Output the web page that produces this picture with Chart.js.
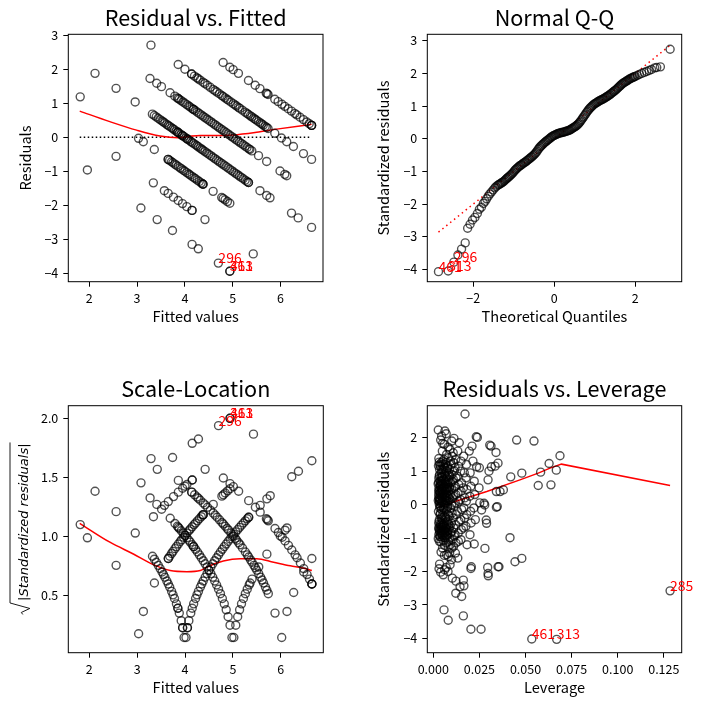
<!DOCTYPE html>
<html>
<head>
<meta charset="utf-8">
<script src="https://cdn.jsdelivr.net/npm/chart.js@4.4.1/dist/chart.umd.min.js"></script>
<style>
html,body{margin:0;padding:0;background:#ffffff;}
#page{position:relative;width:705px;height:706px;overflow:hidden;background:#fff;}
.layer{position:absolute;left:0;top:0;width:705px;height:706px;}
</style>
</head>
<body>
<div id="page">
<div class="layer"><canvas id="c1"></canvas></div>
<div class="layer"><canvas id="c2"></canvas></div>
<div class="layer"><canvas id="c3"></canvas></div>
<div class="layer"><canvas id="c4"></canvas></div>
</div>
<script>
// ================= DATA =================
// Observed (integer) responses and the fitted values of the observations with that response
const observedLevels = [1, 2, 3, 4, 5, 6, 7];
const fittedObs1 = [1.96, 3.08, 3.42, 3.74, 4.15, 4.28, 4.70, 4.94, 4.94];
const fittedObs2 = [2.56, 3.34, 3.57, 3.65, 3.76, 3.86, 3.95, 4.04, 4.15, 4.15, 4.42, 5.43];
const fittedObs3 = [1.81, 3.03, 3.13, 3.36, 3.65, 3.65, 3.68, 3.72, 3.75, 3.79, 3.82, 3.86, 3.90, 3.93, 3.97, 4.00, 4.04, 4.08, 4.11, 4.15, 4.19, 4.22, 4.26, 4.30, 4.34, 4.37, 4.38, 4.38, 4.59, 4.77, 4.80, 4.84, 4.89, 4.94];
const fittedObs4 = [2.12, 2.56, 2.96, 3.32, 3.36, 3.40, 3.44, 3.48, 3.52, 3.55, 3.58, 3.62, 3.65, 3.68, 3.72, 3.75, 3.78, 3.82, 3.85, 3.85, 3.88, 3.92, 3.95, 3.95, 3.98, 4.02, 4.05, 4.05, 4.08, 4.12, 4.15, 4.18, 4.22, 4.25, 4.28, 4.32, 4.35, 4.38, 4.42, 4.46, 4.50, 4.54, 4.58, 4.62, 4.66, 4.70, 4.74, 4.78, 4.82, 4.86, 4.90, 4.94, 4.98, 5.02, 5.06, 5.10, 5.14, 5.18, 5.22, 5.26, 5.30, 5.33, 5.33, 5.57, 5.71, 5.78, 6.23, 6.37, 6.65];
const fittedObs5 = [3.27, 3.41, 3.51, 3.69, 3.79, 3.84, 3.86, 3.88, 3.92, 3.96, 4.00, 4.04, 4.08, 4.11, 4.15, 4.18, 4.18, 4.22, 4.26, 4.30, 4.34, 4.38, 4.42, 4.46, 4.50, 4.54, 4.58, 4.62, 4.66, 4.70, 4.74, 4.78, 4.82, 4.86, 4.90, 4.94, 4.98, 5.02, 5.06, 5.10, 5.14, 5.18, 5.22, 5.26, 5.30, 5.34, 5.36, 5.40, 5.54, 5.71, 5.99, 6.09, 6.13];
const fittedObs6 = [3.29, 3.86, 4.00, 4.14, 4.14, 4.20, 4.25, 4.28, 4.32, 4.38, 4.42, 4.47, 4.53, 4.59, 4.63, 4.67, 4.72, 4.77, 4.80, 4.84, 4.88, 4.91, 4.96, 5.01, 5.05, 5.08, 5.12, 5.15, 5.20, 5.26, 5.30, 5.33, 5.37, 5.40, 5.44, 5.47, 5.50, 5.54, 5.58, 5.61, 5.64, 5.68, 5.71, 5.74, 5.88, 6.02, 6.13, 6.27, 6.48, 6.65];
const fittedObs7 = [4.80, 4.94, 5.01, 5.12, 5.33, 5.47, 5.57, 5.70, 5.72, 5.74, 5.88, 5.95, 6.03, 6.09, 6.16, 6.23, 6.30, 6.34, 6.41, 6.48, 6.55, 6.60, 6.65, 6.65, 6.65];
const residualScale = 0.985; // residual standard error used for standardizing

// Lowess curve, residuals vs fitted
const lowessRvfX = [1.80, 2.43, 2.99, 3.48, 3.86, 4.11, 4.32, 4.60, 5.01, 5.50, 5.92, 6.65];
const lowessRvfY = [0.77, 0.46, 0.21, 0.04, -0.01, 0.03, 0.05, 0.05, 0.07, 0.15, 0.24, 0.38];
const zeroLineX = [1.80, 6.65];
const zeroLineY = [0, 0];

// Normal Q-Q: [theoretical quantile, standardized residual]
const qqPoints = [
  [-2.86,-4.07],[-2.62,-4.05],[-2.48,-3.78],[-2.38,-3.56],[-2.29,-3.38],[-2.20,-3.19],[-2.14,-2.74],[-2.08,-2.62],[-2.02,-2.49],[-1.96,-2.41],[-1.90,-2.29],
  [-1.85,-2.16],[-1.80,-2.10],[-1.75,-1.98],[-1.71,-1.92],[-1.67,-1.84],[-1.63,-1.76],[-1.59,-1.69],[-1.55,-1.63],[-1.51,-1.57],[-1.47,-1.51],[-1.44,-1.47],
  [-1.400,-1.43],[-1.375,-1.41],[-1.350,-1.39],[-1.325,-1.37],[-1.300,-1.35],[-1.275,-1.33],[-1.250,-1.31],[-1.225,-1.28],[-1.200,-1.25],[-1.175,-1.22],
  [-1.150,-1.19],[-1.125,-1.17],[-1.100,-1.14],[-1.075,-1.11],[-1.050,-1.08],[-1.025,-1.05],[-1.000,-1.01],[-0.975,-0.97],[-0.950,-0.94],[-0.925,-0.91],
  [-0.900,-0.88],[-0.875,-0.85],[-0.850,-0.83],[-0.825,-0.81],[-0.800,-0.79],[-0.775,-0.76],[-0.750,-0.74],[-0.725,-0.72],[-0.700,-0.70],[-0.675,-0.67],
  [-0.650,-0.65],[-0.625,-0.62],[-0.600,-0.60],[-0.575,-0.57],[-0.550,-0.55],[-0.525,-0.52],[-0.500,-0.49],[-0.475,-0.46],[-0.450,-0.42],[-0.425,-0.38],
  [-0.400,-0.33],[-0.375,-0.29],[-0.350,-0.25],[-0.325,-0.22],[-0.300,-0.19],[-0.275,-0.16],[-0.250,-0.13],[-0.225,-0.10],[-0.200,-0.08],[-0.175,-0.05],
  [-0.150,-0.03],[-0.125,0.00],[-0.100,0.02],[-0.075,0.05],[-0.050,0.07],[-0.025,0.09],
  [0.000,0.10],[0.025,0.12],[0.050,0.13],[0.075,0.15],[0.100,0.16],[0.125,0.17],[0.150,0.18],[0.175,0.19],[0.200,0.19],[0.225,0.20],
  [0.250,0.21],[0.275,0.22],[0.300,0.23],[0.325,0.24],[0.350,0.25],[0.375,0.26],[0.400,0.28],[0.425,0.30],[0.450,0.32],[0.475,0.34],
  [0.500,0.36],[0.525,0.38],[0.550,0.40],[0.575,0.43],[0.600,0.46],[0.625,0.50],[0.650,0.54],[0.675,0.58],[0.700,0.63],[0.725,0.67],
  [0.750,0.72],[0.775,0.76],[0.800,0.81],[0.825,0.85],[0.850,0.89],[0.875,0.93],[0.900,0.96],[0.925,0.99],[0.950,1.02],[0.975,1.05],
  [1.000,1.07],[1.025,1.09],[1.050,1.11],[1.075,1.13],[1.100,1.15],[1.125,1.17],[1.150,1.18],[1.175,1.20],[1.200,1.21],[1.225,1.23],
  [1.250,1.25],[1.275,1.27],[1.300,1.29],[1.325,1.31],[1.350,1.33],[1.375,1.35],[1.400,1.38],[1.425,1.40],[1.450,1.43],[1.475,1.45],
  [1.500,1.48],[1.525,1.50],[1.550,1.53],[1.575,1.56],[1.600,1.59],[1.625,1.62],[1.650,1.65],[1.675,1.68],[1.700,1.70],[1.725,1.72],
  [1.750,1.74],[1.775,1.76],[1.800,1.78],[1.825,1.80],[1.850,1.82],[1.875,1.84],[1.900,1.85],[1.925,1.87],[1.950,1.88],[1.975,1.90],
  [2.00,1.91],[2.05,1.94],[2.10,1.97],[2.16,2.00],[2.22,2.03],[2.28,2.06],[2.34,2.09],[2.40,2.12],[2.48,2.17],[2.53,2.18],[2.62,2.20],[2.86,2.74]
];
const qqLineX = [-2.86, 2.86];
const qqLineY = [-2.86, 2.86];

// Scale-location lowess
const lowessSlX = [1.80, 2.43, 2.92, 3.34, 3.69, 4.04, 4.32, 4.46, 4.80, 5.15, 5.50, 5.85, 6.20, 6.48, 6.65];
const lowessSlY = [1.11, 0.95, 0.85, 0.76, 0.71, 0.70, 0.71, 0.74, 0.79, 0.81, 0.81, 0.78, 0.75, 0.73, 0.71];

// Residuals vs leverage: [leverage, standardized residual]
const leverageStdPairs = [
  [0.0027,2.23],[0.0030,1.38],[0.0032,1.27],[0.0028,1.16],[0.0034,1.05],[0.0030,0.78],[0.0026,0.62],[0.0031,0.51],[0.0033,0.40],[0.0029,0.31],[0.0030,0.22],[0.0027,0.12],[0.0032,0.02],[0.0035,-0.10],[0.0028,-0.21],[0.0031,-0.58],[0.0029,-0.70],[0.0033,-0.79],[0.0030,-0.90],[0.0027,-1.02],[0.0034,-1.78],[0.0031,-1.92],
  [0.0036,0.45],[0.0038,0.28],[0.0033,0.08],[0.0037,0.58],[0.0029,0.66],[0.0036,-0.05],[0.0034,0.18],[0.0038,-0.62],[0.0032,-0.74],[0.0036,-0.85],
  [0.0035,1.20],[0.0034,0.90],[0.0036,0.70],[0.0035,0.35],[0.0034,0.12],[0.0036,-0.30],[0.0035,-0.95],[0.0033,-1.10],
  [0.0029,0.42],[0.0031,0.18],[0.0033,-0.45],[0.0030,-0.52],[0.0032,0.85],[0.0036,-0.68],
  [0.0040,1.93],[0.0042,1.25],[0.0038,1.15],[0.0044,0.95],[0.0041,0.70],[0.0039,0.55],[0.0043,0.45],[0.0040,0.35],[0.0045,0.25],[0.0038,0.15],[0.0042,0.05],[0.0041,-0.05],[0.0039,-0.27],[0.0044,-0.65],[0.0040,-0.75],[0.0043,-0.85],[0.0038,-0.96],[0.0041,-1.12],[0.0042,-1.42],[0.0040,-2.02],
  [0.0039,0.62],[0.0041,0.38],[0.0043,-0.40],[0.0040,-0.58],[0.0042,0.82],[0.0044,-0.78],
  [0.0046,1.05],[0.0047,0.80],[0.0045,0.62],[0.0046,0.48],[0.0047,0.20],[0.0045,-0.15],[0.0046,-0.70],[0.0047,-0.90],
  [0.0051,1.83],[0.0045,2.05],[0.0049,1.60],[0.0052,1.30],[0.0050,1.20],[0.0054,1.05],[0.0048,0.85],[0.0051,0.60],[0.0053,0.50],[0.0049,0.40],[0.0050,0.30],[0.0052,0.20],[0.0047,0.10],[0.0055,-0.10],[0.0050,-0.32],[0.0048,-0.55],[0.0053,-0.68],[0.0051,-0.80],[0.0049,-0.92],[0.0052,-1.06],[0.0050,-1.30],[0.0054,-2.10],
  [0.0048,0.45],[0.0050,0.05],[0.0049,-0.45],[0.0051,-0.62],[0.0048,0.72],[0.0052,-0.85],
  [0.0056,1.15],[0.0057,0.75],[0.0055,0.52],[0.0056,0.35],[0.0057,0.05],[0.0055,-0.60],[0.0056,-0.75],[0.0057,-0.98],
  [0.0063,2.20],[0.0060,1.80],[0.0058,1.35],[0.0062,1.10],[0.0061,0.90],[0.0064,0.70],[0.0059,0.55],[0.0062,0.45],[0.0060,0.30],[0.0063,0.15],[0.0061,0.00],[0.0058,-0.15],[0.0064,-0.42],[0.0060,-0.65],[0.0062,-0.77],[0.0059,-0.88],[0.0063,-1.00],[0.0061,-1.22],[0.0060,-1.52],[0.0062,-1.95],[0.0058,-3.15],
  [0.0058,0.62],[0.0060,0.22],[0.0059,-0.35],[0.0061,-0.55],[0.0063,0.95],[0.0064,-0.85],
  [0.0066,1.20],[0.0067,0.85],[0.0065,0.62],[0.0066,0.40],[0.0067,0.22],[0.0065,-0.05],[0.0066,-0.72],[0.0067,-0.92],
  [0.0070,2.12],[0.0072,1.50],[0.0068,1.25],[0.0071,1.00],[0.0074,0.80],[0.0069,0.62],[0.0073,0.48],[0.0070,0.35],[0.0072,0.20],[0.0068,0.05],[0.0071,-0.20],[0.0075,-0.50],[0.0070,-0.70],[0.0069,-0.82],[0.0073,-0.95],[0.0071,-1.15],[0.0072,-1.50],[0.0070,-1.88],
  [0.0069,0.52],[0.0071,0.12],[0.0068,-0.38],[0.0072,-0.60],
  [0.0076,1.10],[0.0077,0.68],[0.0075,0.45],[0.0076,0.28],[0.0077,-0.10],[0.0075,-0.80],
  [0.0080,1.72],[0.0082,1.40],[0.0078,1.15],[0.0081,0.95],[0.0084,0.75],[0.0079,0.60],[0.0083,0.40],[0.0080,0.25],[0.0082,0.10],[0.0078,-0.05],[0.0081,-0.30],[0.0084,-0.60],[0.0080,-0.76],[0.0079,-0.90],[0.0083,-1.10],[0.0081,-1.27],[0.0082,-1.55],[0.0080,-2.00],[0.0081,-3.46],
  [0.0078,0.50],[0.0080,-0.45],
  [0.0086,0.88],[0.0087,0.52],[0.0085,0.20],[0.0086,-0.70],
  [0.0090,1.65],[0.0093,1.30],[0.0088,1.05],[0.0091,0.85],[0.0094,0.65],[0.0089,0.50],[0.0092,0.30],[0.0090,0.15],[0.0093,-0.10],[0.0088,-0.35],[0.0091,-0.65],[0.0095,-0.85],[0.0090,-1.00],[0.0092,-1.20],[0.0089,-1.45],[0.0091,-1.80],
  [0.0100,1.90],[0.0102,1.45],[0.0098,1.20],[0.0101,0.90],[0.0104,0.70],[0.0099,0.45],[0.0103,0.20],[0.0100,0.00],[0.0102,-0.25],[0.0098,-0.55],[0.0101,-0.80],[0.0104,-1.05],[0.0100,-1.30],[0.0099,-1.65],[0.0103,-2.20],
  [0.0112,1.98],[0.0108,1.55],[0.0111,1.25],[0.0114,1.00],[0.0109,0.75],[0.0113,0.50],[0.0110,0.25],[0.0112,-0.05],[0.0108,-0.40],[0.0111,-0.70],[0.0114,-0.95],[0.0110,-1.25],
  [0.0121,1.35],[0.0118,1.10],[0.0123,0.80],[0.0120,0.55],[0.0122,0.30],[0.0119,0.05],[0.0124,-0.30],[0.0121,-0.60],[0.0118,-0.90],[0.0123,-1.15],[0.0120,-1.45],[0.0123,-2.29],[0.0122,-2.65],
  [0.0141,1.85],[0.0133,1.60],[0.0136,1.15],[0.0131,0.85],[0.0138,0.60],[0.0134,0.35],[0.0137,0.10],[0.0132,-0.20],[0.0139,-0.50],[0.0135,-0.85],[0.0136,-1.10],[0.0133,-1.60],
  [0.0150,1.30],[0.0148,1.00],[0.0153,0.65],[0.0151,0.40],[0.0147,0.15],[0.0154,-0.15],[0.0149,-0.45],[0.0152,-0.75],[0.0150,-1.05],[0.0145,-2.46],[0.0154,-2.75],[0.0166,-2.43],[0.0163,-2.26],
  [0.0172,2.71],[0.0165,1.45],[0.0168,0.95],[0.0163,0.50],[0.0170,0.20],[0.0166,-0.10],[0.0169,-0.40],[0.0164,-0.70],[0.0163,-3.33],[0.0180,1.20],[0.0178,0.80],[0.0182,0.45],[0.0179,0.10],[0.0181,-0.30],[0.0177,-0.65],[0.0183,-1.20],
  [0.0195,1.60],[0.0210,1.75],[0.0200,0.95],[0.0204,0.55],[0.0198,0.25],[0.0202,-0.20],[0.0205,-0.55],[0.0199,-0.90],[0.0204,-1.91],[0.0215,1.30],[0.0222,0.70],[0.0225,0.30],[0.0220,-0.10],[0.0228,-0.45],[0.0222,-1.18],
  [0.0233,2.03],[0.0239,2.01],[0.0235,1.13],[0.0250,1.10],[0.0248,0.50],[0.0252,0.05],[0.0262,-0.16],[0.0275,0.04],[0.0279,-0.01],[0.0287,-0.46],[0.0289,-0.56],[0.0280,-1.31],[0.0297,0.74],[0.0302,1.00],[0.0306,1.78],[0.0313,1.75],[0.0315,1.13],[0.0342,0.39],[0.0340,1.56],[0.0335,1.15],[0.0342,-0.08],[0.0351,1.24],[0.0347,-0.06],[0.0351,-1.86],[0.0356,-1.86],[0.0295,-1.88],[0.0298,-2.13],[0.0297,-2.06],[0.0259,-3.73],[0.0204,-3.73],[0.0206,-1.86],
  [0.0362,0.39],[0.0380,0.44],[0.0416,-0.99],[0.0420,0.83],[0.0443,-1.71],[0.0452,1.93],[0.0480,0.94],[0.0480,-1.61],[0.0534,-4.02],[0.0546,1.90],[0.0569,0.57],[0.0582,0.97],[0.0628,1.23],[0.0638,0.59],[0.0667,1.03],[0.0687,1.46],[0.0669,-4.03],[0.1284,-2.58]
];
const lowessLevX = [0.0030, 0.0118, 0.0290, 0.0470, 0.0569, 0.0633, 0.0695, 0.1284];
const lowessLevY = [-0.08, 0.09, 0.39, 0.74, 0.94, 1.09, 1.21, 0.57];

// Labelled observations
const outlierIds = ['296', '313', '461'];
const outlierFitted = [4.70, 4.94, 4.94];
const outlierObserved = [1, 1, 1];
const qqOutlierIds = ['296', '313', '461'];
const qqOutlierTheo = [-2.48, -2.62, -2.86];
const qqOutlierSample = [-3.78, -4.05, -4.07];
const levOutlierIds = ['461', '313', '285'];
const levOutlierX = [0.0534, 0.0669, 0.1284];
const levOutlierY = [-4.02, -4.03, -2.58];

// Tick labels
const ticksRvfX = [2, 3, 4, 5, 6];
const ticksRvfY = [-4, -3, -2, -1, 0, 1, 2, 3];
const ticksQqX = [-2, 0, 2];
const ticksQqY = [-4, -3, -2, -1, 0, 1, 2, 3];
const ticksSlX = [2, 3, 4, 5, 6];
const ticksSlY = [0.5, 1.0, 1.5, 2.0];
const ticksLevX = [0, 0.025, 0.05, 0.075, 0.1, 0.125];
const ticksLevY = [-4, -3, -2, -1, 0, 1, 2];

// ================= DERIVED =================
const fitted = [], observed = [];
[fittedObs1, fittedObs2, fittedObs3, fittedObs4, fittedObs5, fittedObs6, fittedObs7].forEach((arr, k) => {
  arr.forEach(f => { fitted.push(f); observed.push(observedLevels[k]); });
});
const residuals = fitted.map((f, i) => observed[i] - f);
const sqrtAbsStd = residuals.map(r => Math.sqrt(Math.abs(r) / residualScale));
const outlierResid = outlierFitted.map((f, i) => outlierObserved[i] - f);
const outlierSqrt = outlierResid.map(r => Math.sqrt(Math.abs(r) / residualScale));

// ================= STYLE / LAYOUT =================
const FONT = '"Noto Sans CJK JP", "Noto Sans", "DejaVu Sans", sans-serif';
const PW = 705, PH = 706, YW = 60, XH = 40;
const minus = v => (v < 0 ? '\u2212' : '') + Math.abs(v);
const fmtInt = v => minus(Math.round(v));
const fmt1 = v => v.toFixed(1);
const fmt3 = v => v.toFixed(3);

const pts = (xs, ys) => xs.map((x, i) => ({ x: x, y: ys[i] }));

function scatterDS(data) {
  return { data: data, showLine: false, pointRadius: 4.0, pointHoverRadius: 4.0, pointBorderWidth: 1.4,
    pointBorderColor: 'rgba(0,0,0,0.68)', pointBackgroundColor: 'rgba(0,0,0,0)', order: 0 };
}
function lineDS(data, color, dash, smooth) {
  return { data: data, showLine: true, borderColor: color, borderWidth: 1.5, borderDash: dash || [],
    borderCapStyle: 'butt', pointRadius: 0, pointHoverRadius: 0, fill: false,
    tension: smooth ? 0.4 : 0, cubicInterpolationMode: smooth ? 'monotone' : 'default', order: 1 };
}
function axisCfg(min, max, ticks, fmt, isY) {
  return {
    type: 'linear', min: min, max: max, bounds: 'data',
    afterBuildTicks: s => { s.ticks = ticks.map(v => ({ value: v })); },
    afterFit: s => { if (isY) s.width = YW; else s.height = XH; },
    grid: { display: true, drawOnChartArea: false, drawTicks: true, tickLength: 5, color: '#000', lineWidth: 1 },
    border: { display: false },
    ticks: { color: '#000', font: { family: FONT, size: 12.5 }, padding: isY ? 5 : 4.5,
      maxRotation: 0, minRotation: 0, autoSkip: false, callback: v => fmt(v) }
  };
}

function panelPlugin(p) {
  return {
    id: 'panel_' + p.id,
    afterDatasetsDraw(chart) {
      const ctx = chart.ctx, a = chart.chartArea;
      ctx.save();
      ctx.strokeStyle = '#000'; ctx.lineWidth = 1;
      ctx.strokeRect(a.left, a.top, a.right - a.left, a.bottom - a.top);
      ctx.fillStyle = '#ff0000';
      ctx.font = '14px ' + FONT;
      ctx.textAlign = 'left'; ctx.textBaseline = 'alphabetic';
      (p.annots || []).forEach(an => {
        const px = chart.scales.x.getPixelForValue(an.x);
        const py = chart.scales.y.getPixelForValue(an.y);
        ctx.fillText(an.text, px, py);
      });
      ctx.restore();
    },
    afterDraw(chart) {
      const ctx = chart.ctx, a = chart.chartArea;
      const cx = (a.left + a.right) / 2, cy = (a.top + a.bottom) / 2;
      ctx.save();
      ctx.fillStyle = '#000';
      ctx.textAlign = 'center'; ctx.textBaseline = 'alphabetic';
      ctx.font = '21.6px ' + FONT;
      ctx.fillText(p.title, cx, a.top - 8.3);
      ctx.font = '14.6px ' + FONT;
      ctx.fillText(p.xlabel, cx, a.bottom + 40.6);
      if (p.sqrtLabel) {
        drawSqrtLabel(ctx, p.ylabelX, cy);
      } else {
        ctx.translate(p.ylabelX, cy);
        ctx.rotate(-Math.PI / 2);
        ctx.fillText(p.ylabel, 0, 0);
      }
      ctx.restore();
    }
  };
}

function drawSqrtLabel(ctx, xBase, yCenter) {
  ctx.save();
  ctx.translate(xBase, yCenter);
  ctx.rotate(-Math.PI / 2);
  const txt = '|Standardized residuals|';
  ctx.font = 'italic 13px "DejaVu Sans"';
  const tw = ctx.measureText(txt).width;
  const rw = 14;
  const total = rw + tw;
  const x0 = -total / 2;
  ctx.fillStyle = '#000';
  ctx.textAlign = 'left';
  ctx.textBaseline = 'alphabetic';
  ctx.fillText(txt, x0 + rw, 0);
  ctx.strokeStyle = '#000';
  ctx.lineWidth = 0.9;
  ctx.beginPath();
  ctx.moveTo(x0 + 0.5, -5.5);
  ctx.lineTo(x0 + 2.5, -7);
  ctx.lineTo(x0 + 6.5, 1.5);
  ctx.lineTo(x0 + 12, -18.3);
  ctx.lineTo(x0 + total + 1, -18.3);
  ctx.stroke();
  ctx.restore();
}

function makeChart(p) {
  const a = p.area;
  return new Chart(document.getElementById(p.id), {
    type: 'scatter',
    data: { datasets: p.datasets },
    options: {
      responsive: true, maintainAspectRatio: false, animation: false, events: [],
      layout: { padding: { left: a.L - YW, top: a.T, right: PW - a.R, bottom: PH - a.B - XH } },
      plugins: { legend: { display: false }, tooltip: { enabled: false }, title: { display: false } },
      scales: { x: p.x, y: p.y }
    },
    plugins: [panelPlugin(p)]
  });
}

// ================= PANELS =================
makeChart({
  id: 'c1', area: { L: 68.3, T: 34.3, R: 323, B: 281.7 },
  title: 'Residual vs. Fitted', xlabel: 'Fitted values', ylabel: 'Residuals', ylabelX: 31,
  x: axisCfg(1.561, 6.889, ticksRvfX, fmtInt, false),
  y: axisCfg(-4.247, 3.029, ticksRvfY, fmtInt, true),
  datasets: [
    scatterDS(pts(fitted, residuals)),
    lineDS(pts(lowessRvfX, lowessRvfY), '#ff0000', [], true),
    lineDS(pts(zeroLineX, zeroLineY), '#000000', [1.5, 2.5], false)
  ],
  annots: outlierIds.map((t, i) => ({ text: t, x: outlierFitted[i], y: outlierResid[i] }))
});

makeChart({
  id: 'c2', area: { L: 427.3, T: 34.3, R: 681.7, B: 281.7 },
  title: 'Normal Q-Q', xlabel: 'Theoretical Quantiles', ylabel: 'Standardized residuals', ylabelX: 389,
  x: axisCfg(-3.136, 3.146, ticksQqX, fmtInt, false),
  y: axisCfg(-4.378, 3.197, ticksQqY, fmtInt, true),
  datasets: [
    scatterDS(qqPoints.map(p => ({ x: p[0], y: p[1] }))),
    lineDS(pts(qqLineX, qqLineY), '#ff0000', [1.5, 3.5], false)
  ],
  annots: qqOutlierIds.map((t, i) => ({ text: t, x: qqOutlierTheo[i], y: qqOutlierSample[i] }))
});

makeChart({
  id: 'c3', area: { L: 68.3, T: 405.7, R: 323.3, B: 652.7 },
  title: 'Scale-Location', xlabel: 'Fitted values', sqrtLabel: true, ylabelX: 28.3,
  x: axisCfg(1.561, 6.889, ticksSlX, fmtInt, false),
  y: axisCfg(0.0136, 2.107, ticksSlY, fmt1, true),
  datasets: [
    scatterDS(pts(fitted, sqrtAbsStd)),
    lineDS(pts(lowessSlX, lowessSlY), '#ff0000', [], true)
  ],
  annots: outlierIds.map((t, i) => ({ text: t, x: outlierFitted[i], y: outlierSqrt[i] }))
});

makeChart({
  id: 'c4', area: { L: 427.3, T: 405.7, R: 681.7, B: 652.7 },
  title: 'Residuals vs. Leverage', xlabel: 'Leverage', ylabel: 'Standardized residuals', ylabelX: 389,
  x: axisCfg(-0.00325, 0.1347, ticksLevX, fmt3, false),
  y: axisCfg(-4.430, 2.958, ticksLevY, fmtInt, true),
  datasets: [
    scatterDS(leverageStdPairs.map(p => ({ x: p[0], y: p[1] }))),
    lineDS(pts(lowessLevX, lowessLevY), '#ff0000', [], false)
  ],
  annots: levOutlierIds.map((t, i) => ({ text: t, x: levOutlierX[i], y: levOutlierY[i] }))
});
</script>
</body>
</html>
